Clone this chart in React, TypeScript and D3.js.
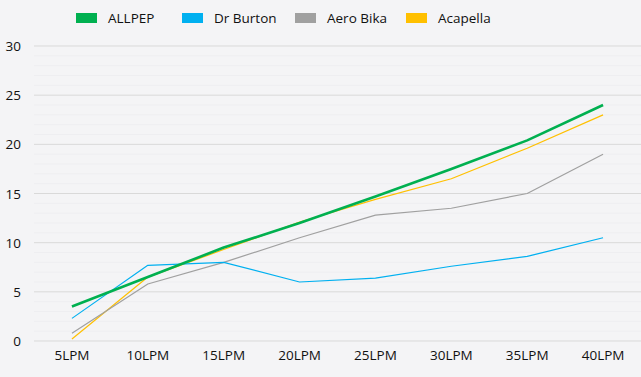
import React from "react";
import * as d3 from "d3";

const categories = ["5LPM", "10LPM", "15LPM", "20LPM", "25LPM", "30LPM", "35LPM", "40LPM"];
const seriesNames = ["ALLPEP", "Dr Burton", "Aero Bika", "Acapella"];
const allpep = [3.5, 6.5, 9.5, 12.0, 14.7, 17.5, 20.4, 24.0];
const drBurton = [2.3, 7.7, 8.0, 6.0, 6.4, 7.6, 8.6, 10.5];
const aeroBika = [0.8, 5.8, 8.0, 10.5, 12.8, 13.5, 15.0, 19.0];
const acapella = [0.2, 6.5, 9.3, 12.1, 14.4, 16.5, 19.6, 23.0];
const yTicks = [0, 5, 10, 15, 20, 25, 30];

const colors = ["#00b050", "#00b0f0", "#a0a0a0", "#ffc000"];
const widths = [2.6, 1.2, 1.2, 1.2];

export default function App() {
  const W = 641, H = 377;
  const left = 34, right = 641, top = 46, bottom = 341;
  const x = d3.scalePoint<string>().domain(categories).range([left, right]).padding(0.5);
  const y = d3.scaleLinear().domain([0, 30]).range([bottom, top]);
  const data = [allpep, drBurton, aeroBika, acapella];
  const line = d3.line<number>().x((_, i) => x(categories[i]) as number).y((d) => y(d));
  const minor = d3.range(0, 31, 1).filter((v) => v % 5 !== 0);
  const legendX = [76, 182, 295, 406];
  const font = "'Segoe UI', 'Open Sans', sans-serif";
  return (
    <svg width={W} height={H} style={{ position: "absolute", left: 0, top: 0, display: "block" }}>
      <rect x={0} y={0} width={W} height={H} fill="#f4f4f6" />
      {minor.map((v) => (
        <line key={"m" + v} x1={left} x2={right} y1={y(v)} y2={y(v)} stroke="#eeeef1" strokeWidth={1} />
      ))}
      {yTicks.map((v) => (
        <g key={v}>
          <line x1={left} x2={right} y1={y(v)} y2={y(v)} stroke="#d9d9d9" strokeWidth={1} />
          <text x={21} y={y(v) + 5} textAnchor="end" fontSize={13.5} fontFamily={font} fill="#111">
            {v}
          </text>
        </g>
      ))}
      {categories.map((c) => (
        <text key={c} x={x(c)} y={360} textAnchor="middle" fontSize={13.5} fontFamily={font} fill="#111">
          {c}
        </text>
      ))}
      {[3, 2, 1, 0].map((i) => (
        <path key={i} d={line(data[i]) || ""} fill="none" stroke={colors[i]} strokeWidth={widths[i]} strokeLinejoin="round" />
      ))}
      {seriesNames.map((n, i) => (
        <g key={n}>
          <rect x={legendX[i]} y={13} width={21} height={10} fill={colors[i]} />
          <text x={legendX[i] + 32} y={23} fontSize={13.5} fontFamily={font} fill="#111">
            {n}
          </text>
        </g>
      ))}
    </svg>
  );
}
